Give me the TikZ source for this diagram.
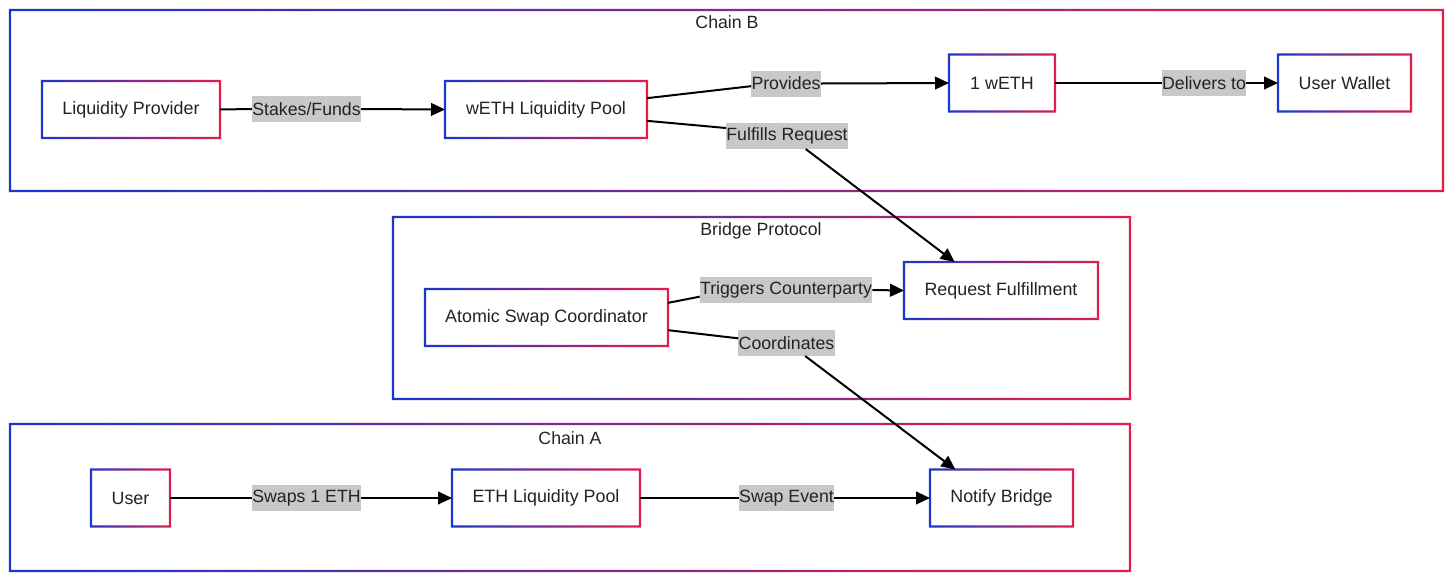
\documentclass[tikz,border=0pt]{standalone}
\usepackage{fontspec}
\setmainfont{Liberation Sans}
\usetikzlibrary{calc,arrows.meta}
\definecolor{cblue}{RGB}{25,55,205}
\definecolor{cred}{RGB}{225,30,75}
\definecolor{lblgray}{RGB}{200,200,200}
\definecolor{txt}{RGB}{35,35,35}
\newcommand{\gradframe}[1]{%
  \shade[left color=cblue,right color=cred,even odd rule]
   ($(#1.north west)+(-0.8pt,0.8pt)$) rectangle ($(#1.south east)+(0.8pt,-0.8pt)$)
   ($(#1.north west)+(0.8pt,-0.8pt)$) rectangle ($(#1.south east)+(-0.8pt,0.8pt)$);}
\tikzset{
  box/.style={rectangle, minimum height=42.75pt, inner sep=0pt, outer sep=0pt,
    font=\fontsize{13.4}{15}\selectfont, text=txt, fill=white},
  lbl/.style={rectangle, fill=lblgray, inner xsep=0.3pt, inner ysep=0pt, minimum height=19.5pt,
    outer sep=0pt, font=\fontsize{13.3}{15}\selectfont, text=txt},
  ttl/.style={font=\fontsize{13.3}{15}\selectfont, text=txt},
  frm/.style={rectangle, inner sep=0pt, outer sep=0pt},
  conn/.style={line width=1.5pt, black},
  arr/.style={conn, -{Triangle[length=10.5pt,width=9.5pt]}}
}
\begin{document}
\begin{tikzpicture}[x=0.75pt,y=-0.75pt]
\useasboundingbox (0,0) rectangle (1456,583);
% containers
\node[frm, minimum width=1433*0.75pt, minimum height=181*0.75pt] (chainB) at (726.5,100.5) {};
\node[frm, minimum width=737*0.75pt, minimum height=182*0.75pt] (bridge) at (761.5,308) {};
\node[frm, minimum width=1120*0.75pt, minimum height=147*0.75pt] (chainA) at (570,497.5) {};
\gradframe{chainB}
\gradframe{bridge}
\gradframe{chainA}
\node[ttl] (tB) at (727,22) {Chain B};
\node[ttl] (tBr) at (761,231) {Bridge Protocol};
\node[ttl] (tA) at (570,438) {Chain A};
% boxes
\node[box, minimum width=178*0.75pt] (lp) at (131,109.5) {Liquidity Provider};
\node[box, minimum width=202*0.75pt] (wpool) at (546,109.5) {wETH Liquidity Pool};
\node[box, minimum width=106*0.75pt] (weth) at (1002,83) {1 wETH};
\node[box, minimum width=133*0.75pt] (wallet) at (1344.5,83) {User Wallet};
\node[box, minimum width=194*0.75pt] (rf) at (1001,290.5) {Request Fulfillment};
\node[box, minimum width=243*0.75pt] (asc) at (546.5,317.5) {Atomic Swap Coordinator};
\node[box, minimum width=79*0.75pt] (user) at (130.5,498) {User};
\node[box, minimum width=188*0.75pt] (ethpool) at (546,498) {ETH Liquidity Pool};
\node[box, minimum width=143*0.75pt] (notify) at (1001.5,498) {Notify Bridge};
\foreach \n in {lp,wpool,weth,wallet,rf,asc,user,ethpool,notify} {\gradframe{\n}}
% labels
\node[lbl] (l1) at (306.5,109) {Stakes/Funds};
\node[lbl] (l2) at (786,83.5) {Provides};
\node[lbl] (l3) at (1204,83) {Delivers to};
\node[lbl] (l4) at (787,136) {Fulfills Request};
\node[lbl] (l5) at (786,290) {Triggers Counterparty};
\node[lbl] (l6) at (786.5,343) {Coordinates};
\node[lbl] (l7) at (306.5,498) {Swaps 1 ETH};
\node[lbl] (l8) at (786.5,498) {Swap Event};
% connectors
\draw[conn] (lp.east) -- (l1.west);
\draw[arr] (l1.east) -- (wpool.west);
\draw[conn] ($(wpool.east)+(0,8.5pt)$) -- ($(l2.west)+(0,-2pt)$);
\draw[arr] (l2.east) -- (weth.west);
\draw[conn] (weth.east) -- (l3.west);
\draw[arr] (l3.east) -- (wallet.west);
\draw[conn] ($(wpool.east)+(0,-8.5pt)$) -- ($(l4.west)+(0,6pt)$);
\draw[arr] ($(l4.south)+(14pt,0)$) -- ($(rf.north west)+(38pt,0)$);
\draw[conn] ($(asc.east)+(0,11pt)$) -- ($(l5.west)+(0,-5pt)$);
\draw[arr] (l5.east) -- (rf.west);
\draw[conn] ($(asc.east)+(0,-9.5pt)$) -- ($(l6.west)+(0,3.5pt)$);
\draw[arr] ($(l6.south)+(14pt,0)$) -- ($(notify.north west)+(19pt,0)$);
\draw[conn] (user.east) -- (l7.west);
\draw[arr] (l7.east) -- (ethpool.west);
\draw[conn] (ethpool.east) -- (l8.west);
\draw[arr] (l8.east) -- (notify.west);
\end{tikzpicture}
\end{document}
